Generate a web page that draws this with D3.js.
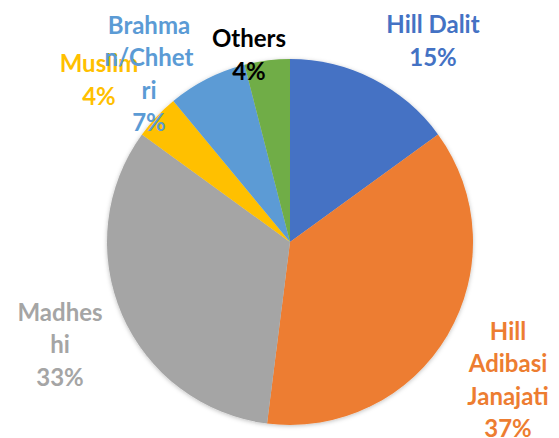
<!DOCTYPE html>
<html>
<head>
<meta charset="utf-8">
<script src="https://cdn.jsdelivr.net/npm/d3@7"></script>
<style>
  body { margin: 0; background: #fff; }
  text { font-family: "Lato", "Open Sans", sans-serif; font-weight: bold; }
</style>
</head>
<body>
<svg id="chart" width="559" height="438"></svg>
<script>
// data
const groups = ["Hill Dalit", "Hill Adibasi Janajati", "Madheshi", "Muslim", "Brahman/Chhetri", "Others"];
const shares = [15, 37, 33, 4, 7, 4];
// label text as it wraps in the original
const labelLines = [
  ["Hill Dalit", "15%"],
  ["Hill", "Adibasi", "Janajati", "37%"],
  ["Madhes", "hi", "33%"],
  ["Muslim", "4%"],
  ["Brahma", "n/Chhet", "ri", "7%"],
  ["Others", "4%"]
];
const colors = ["#4472C4", "#ED7D31", "#A5A5A5", "#FFC000", "#5B9BD5", "#70AD47"];
const labelColors = ["#4472C4", "#ED7D31", "#A5A5A5", "#FFC000", "#5B9BD5", "#000000"];
// label centre positions (best fit, relative to pie centre)
const labelPos = [[143, -201], [218, 138], [-230, 103], [-191, -162], [-141, -168], [-41, -187]];

const cx = 290, cy = 242, r = 183;
const svg = d3.select("#chart");

const defs = svg.append("defs");
const f = defs.append("filter").attr("id", "shadow")
  .attr("x", "-10%").attr("y", "-10%").attr("width", "120%").attr("height", "120%");
f.append("feDropShadow").attr("dx", 0).attr("dy", 1).attr("stdDeviation", 2)
  .attr("flood-color", "#000").attr("flood-opacity", 0.25);

const pie = d3.pie().sort(null).value(d => d);
const arc = d3.arc().innerRadius(0).outerRadius(r);

const g = svg.append("g").attr("transform", `translate(${cx},${cy})`);

g.append("g").attr("filter", "url(#shadow)")
  .selectAll("path")
  .data(pie(shares))
  .enter()
  .append("path")
  .attr("d", arc)
  .attr("fill", (d, i) => colors[i]);

const lh = 32.5;
const labels = g.selectAll("text.lbl")
  .data(labelLines)
  .enter()
  .append("text")
  .attr("class", "lbl")
  .attr("text-anchor", "middle")
  .attr("font-size", 24)
  .attr("fill", (d, i) => labelColors[i])
  .attr("transform", (d, i) => `translate(${labelPos[i][0]},${labelPos[i][1]})`);

labels.each(function(lines) {
  const t = d3.select(this);
  const y0 = -(lines.length - 1) * lh / 2;
  lines.forEach((s, j) => {
    t.append("tspan").attr("x", 0).attr("y", y0 + j * lh).attr("dy", "0.35em").text(s);
  });
});
</script>
</body>
</html>
